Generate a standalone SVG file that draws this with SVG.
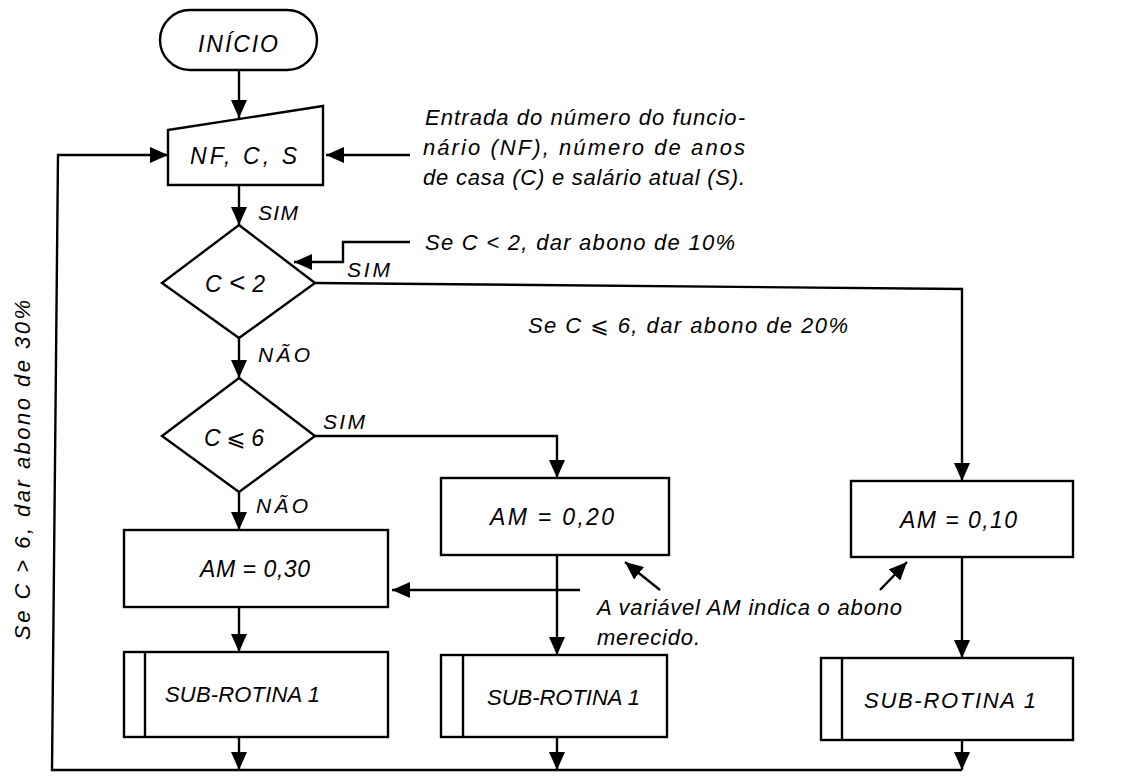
<svg xmlns="http://www.w3.org/2000/svg" width="1122" height="778" viewBox="0 0 1122 778">
<style>
.s{fill:#fff;stroke:#000;stroke-width:2.4}
.c{fill:none;stroke:#000;stroke-width:2.4}
text{font-family:"Liberation Sans",Arial,"DejaVu Sans",sans-serif;font-style:italic;fill:#000}
.n{font-size:23px}
.u{font-size:22px}
.l{font-size:21px}
.a{font-size:22px}
</style>
<defs>
<marker id="ah" viewBox="0 0 18 16" refX="18" refY="8" markerWidth="18" markerHeight="16" orient="auto" markerUnits="userSpaceOnUse"><path d="M0,0 L18,8 L0,16 z" fill="#000"/></marker>
</defs>
<rect width="1122" height="778" fill="#fff"/>
<g id="connectors">
<path class="c" d="M239,70 V118" marker-end="url(#ah)"/>
<path class="c" d="M239,185 V225" marker-end="url(#ah)"/>
<path class="c" d="M239,338 V378" marker-end="url(#ah)"/>
<path class="c" d="M315,283 L962,289 V481" marker-end="url(#ah)"/>
<path class="c" d="M315,436 H557 V478" marker-end="url(#ah)"/>
<path class="c" d="M239,492 V530" marker-end="url(#ah)"/>
<path class="c" d="M239,607 V652" marker-end="url(#ah)"/>
<path class="c" d="M557,555 V655" marker-end="url(#ah)"/>
<path class="c" d="M962,557 V658" marker-end="url(#ah)"/>
<path class="c" d="M239,737 V770" marker-end="url(#ah)"/>
<path class="c" d="M557,737 V770" marker-end="url(#ah)"/>
<path class="c" d="M962,740 V770" marker-end="url(#ah)"/>
<path class="c" d="M962,770 H52 L58,155 H168" marker-end="url(#ah)"/>
<path class="c" d="M410,155 H326" marker-end="url(#ah)"/>
<path class="c" d="M410,242 H343 V262 H294" marker-end="url(#ah)"/>
<path class="c" d="M580,590 H392" marker-end="url(#ah)"/>
<path class="c" d="M660,590 L625,562" marker-end="url(#ah)"/>
<path class="c" d="M880,590 L907,562" marker-end="url(#ah)"/>
</g>
<g id="inicio">
<rect class="s" x="160" y="10" width="157" height="60" rx="30"/>
<text class="n" x="198" y="52" textLength="80" lengthAdjust="spacing">INÍCIO</text>
</g>
<g id="entrada">
<polygon class="s" points="168,130 323,106 323,185 168,185"/>
<text class="n" x="190" y="164" textLength="107" lengthAdjust="spacing">NF, C, S</text>
</g>
<g id="dec1">
<polygon class="s" points="239,225 315,283 239,338 162,283"/>
<text class="n" x="205" y="292" textLength="60" lengthAdjust="spacing">C<tspan font-size="28"> &lt; </tspan>2</text>
</g>
<g id="dec2">
<polygon class="s" points="239,378 315,436 239,492 162,436"/>
<text class="n" x="204" y="446" textLength="60" lengthAdjust="spacing">C ⩽ 6</text>
</g>
<g id="am30">
<rect class="s" x="124" y="530" width="264" height="77"/>
<text class="n" x="200" y="577" textLength="110" lengthAdjust="spacing">AM = 0,30</text>
</g>
<g id="am20">
<rect class="s" x="441" y="478" width="228" height="77"/>
<text class="n" x="490" y="525" textLength="124" lengthAdjust="spacing">AM =  0,20</text>
</g>
<g id="am10">
<rect class="s" x="851" y="481" width="222" height="76"/>
<text class="n" x="900" y="528" textLength="117" lengthAdjust="spacing">AM = 0,10</text>
</g>
<g id="sub1">
<rect class="s" x="124" y="652" width="264" height="85"/>
<line class="c" x1="145" y1="652" x2="145" y2="737"/>
<text class="u" x="165" y="702" textLength="155" lengthAdjust="spacing">SUB-ROTINA  1</text>
</g>
<g id="sub2">
<rect class="s" x="441" y="655" width="226" height="82"/>
<line class="c" x1="463" y1="655" x2="463" y2="737"/>
<text class="u" x="487" y="705" textLength="153" lengthAdjust="spacing">SUB-ROTINA 1</text>
</g>
<g id="sub3">
<rect class="s" x="821" y="658" width="252" height="82"/>
<line class="c" x1="842" y1="658" x2="842" y2="740"/>
<text class="u" x="864" y="708" textLength="172" lengthAdjust="spacing">SUB-ROTINA 1</text>
</g>
<g id="labels">
<text class="l" x="258" y="220" textLength="40" lengthAdjust="spacing">SIM</text>
<text class="l" x="347" y="277" textLength="43" lengthAdjust="spacing">SIM</text>
<text class="l" x="258" y="362" textLength="52" lengthAdjust="spacing">NÃO</text>
<text class="l" x="323" y="429" textLength="42" lengthAdjust="spacing">SIM</text>
<text class="l" x="256" y="513" textLength="52" lengthAdjust="spacing">NÃO</text>
</g>
<g id="notes">
<text class="a" x="425" y="125" textLength="320" lengthAdjust="spacing">Entrada do número do funcio-</text>
<text class="a" x="423" y="155" textLength="322" lengthAdjust="spacing">nário  (NF), número  de  anos</text>
<text class="a" x="423" y="185" textLength="322" lengthAdjust="spacing">de casa (C) e salário atual (S).</text>
<text class="a" x="425" y="250" textLength="310" lengthAdjust="spacing">Se C &lt; 2, dar abono de 10%</text>
<text class="a" x="528" y="333" textLength="320" lengthAdjust="spacing">Se C ⩽ 6, dar abono de 20%</text>
<text class="a" x="597" y="615" textLength="305" lengthAdjust="spacing">A variável AM indica o abono</text>
<text class="a" x="597" y="645" textLength="103" lengthAdjust="spacing">merecido.</text>
<text class="a" transform="translate(30,640) rotate(-90)" x="0" y="0" textLength="340" lengthAdjust="spacing">Se C &gt; 6, dar abono de 30%</text>
</g>
</svg>
